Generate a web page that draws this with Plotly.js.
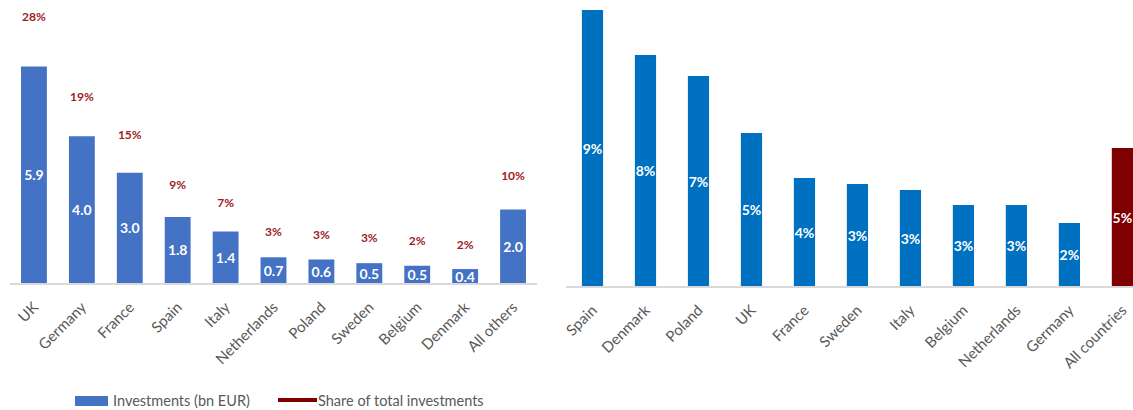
<!DOCTYPE html>
<html>
<head>
<meta charset="utf-8">
<script src="https://cdn.plot.ly/plotly-3.0.1.min.js"></script>
<style>html,body{margin:0;padding:0;background:#fff;}#chart{width:1133px;height:410px;}</style>
</head>
<body>
<div id="chart"></div>
<script>
// Left panel: investments by country
const leftCats = ['UK','Germany','France','Spain','Italy','Netherlands','Poland','Sweden','Belgium','Denmark','All others'];
const investments = [5.9, 4.0, 3.0, 1.8, 1.4, 0.7, 0.64, 0.54, 0.47, 0.38, 2.0];
const shareOfTotal = [28.1, 19.0, 14.6, 8.8, 6.8, 3.4, 3.1, 2.7, 2.4, 2.0, 9.9];
// Right panel: share by country
const rightCats = ['Spain','Denmark','Poland','UK','France','Sweden','Italy','Belgium','Netherlands','Germany','All countries'];
const rightShares = [9.2, 7.7, 7.0, 5.1, 3.6, 3.4, 3.2, 2.7, 2.7, 2.1, 4.6];
const legendLabels = ['Investments (bn EUR)', 'Share of total investments'];

const FONT = 'Lato, "Noto Sans", sans-serif';
const BLUE_L = '#4472C4', BLUE_R = '#0070C0', DARKRED = '#7F0000', LABELRED = '#A0201E', GREY = '#595959';
const W = 1133, H = 410;

const rightColors = rightCats.map((c, i) => i === rightCats.length - 1 ? DARKRED : BLUE_R);

const traces = [
  {
    type: 'bar', x: leftCats, y: investments, xaxis: 'x', yaxis: 'y',
    marker: {color: BLUE_L}, width: 0.54,
    text: investments.map(v => v.toFixed(1)), textposition: 'inside', insidetextanchor: 'middle',
    constraintext: 'none', textangle: 0,
    textfont: {family: FONT, size: 14, color: '#ffffff', weight: 700},
    hoverinfo: 'x+y', showlegend: false
  },
  {
    type: 'scatter', mode: 'text', x: leftCats, y: shareOfTotal, xaxis: 'x', yaxis: 'y2',
    text: shareOfTotal.map(v => Math.round(v) + '%'), textposition: 'middle center',
    textfont: {family: FONT, size: 12, color: LABELRED, weight: 700},
    cliponaxis: false, showlegend: false
  },
  {
    type: 'bar', x: rightCats, y: rightShares, xaxis: 'x2', yaxis: 'y3',
    marker: {color: rightColors}, width: 0.40,
    text: rightShares.map(v => Math.round(v) + '%'), textposition: 'inside', insidetextanchor: 'middle',
    constraintext: 'none', textangle: 0,
    textfont: {family: FONT, size: 14, color: '#ffffff', weight: 700},
    showlegend: false
  }
];

const xCommon = {
  type: 'category', showline: true, linecolor: '#D9D9D9', linewidth: 1.5,
  ticks: '', showgrid: false, zeroline: false, tickangle: -45, automargin: false,
  ticklabelstandoff: 8,
  tickfont: {family: FONT, size: 15, color: GREY}
};
const yHidden = {showgrid: false, zeroline: false, showticklabels: false, showline: false, ticks: '', automargin: false};

const layout = {
  width: W, height: H,
  margin: {l: 0, r: 0, t: 0, b: 0},
  paper_bgcolor: '#ffffff', plot_bgcolor: 'rgba(0,0,0,0)',
  showlegend: false,
  font: {family: FONT, color: GREY},
  xaxis: Object.assign({}, xCommon, {domain: [10 / W, 537 / W], anchor: 'y', range: [-0.5, 10.5]}),
  yaxis: Object.assign({}, yHidden, {domain: [(H - 283) / H, (H - 8) / H], range: [0, 7.49], anchor: 'x'}),
  yaxis2: Object.assign({}, yHidden, {overlaying: 'y', range: [-2.3, 29.3], anchor: 'x'}),
  xaxis2: Object.assign({}, xCommon, {domain: [566 / W, 1], anchor: 'y3', range: [-0.5, 10.2]}),
  yaxis3: Object.assign({}, yHidden, {domain: [(H - 286) / H, (H - 8) / H], range: [0, 9.27], anchor: 'x2'}),
  shapes: [
    {type: 'rect', xref: 'paper', yref: 'paper', x0: 75 / W, x1: 108 / W, y0: (H - 406) / H, y1: (H - 396) / H,
     fillcolor: BLUE_L, line: {width: 0}},
    {type: 'line', xref: 'paper', yref: 'paper', x0: 278 / W, x1: 317 / W, y0: (H - 400) / H, y1: (H - 400) / H,
     line: {color: DARKRED, width: 4}}
  ],
  annotations: [
    {xref: 'paper', yref: 'paper', x: 111 / W, y: (H - 400) / H, xanchor: 'left', yanchor: 'middle',
     text: legendLabels[0], showarrow: false, font: {family: FONT, size: 14.5, color: GREY}},
    {xref: 'paper', yref: 'paper', x: 316 / W, y: (H - 400) / H, xanchor: 'left', yanchor: 'middle',
     text: legendLabels[1], showarrow: false, font: {family: FONT, size: 14.5, color: GREY}}
  ]
};

Plotly.newPlot('chart', traces, layout, {displayModeBar: false, staticPlot: true});
</script>
</body>
</html>
